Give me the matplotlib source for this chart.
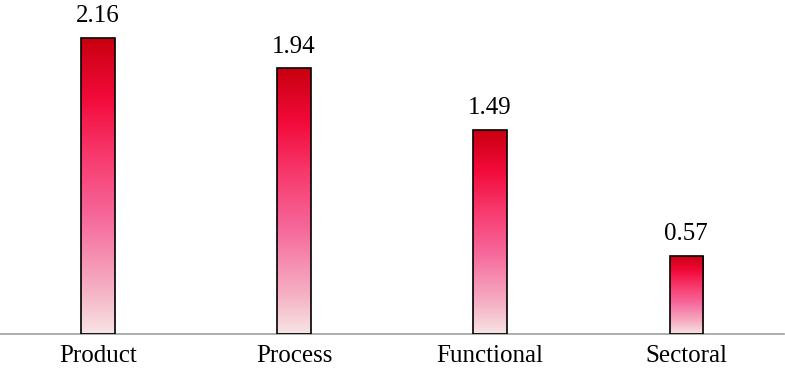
import numpy as np
import matplotlib
matplotlib.use("Agg")
import matplotlib.pyplot as plt
from matplotlib.colors import LinearSegmentedColormap

categories = ["Product", "Process", "Functional", "Sectoral"]
values = [2.16, 1.94, 1.49, 0.57]

plt.rcParams['font.family'] = ['Liberation Serif', 'DejaVu Serif']

fig = plt.figure(figsize=(7.85, 3.7), dpi=100)
ax = fig.add_axes([0.0, 0.097, 0.999, 0.903])

# gradient from light pink at the bottom to dark red at the top
cmap = LinearSegmentedColormap.from_list(
    "redpink",
    [(0.0, "#f8e4e4"), (0.15, "#f5b0c4"), (0.4, "#f6679a"),
     (0.6, "#f83a6e"), (0.8, "#f20a3a"), (1.0, "#c8000f")])
grad = np.linspace(0, 1, 256).reshape(-1, 1)

width = 0.17
x = np.arange(len(categories))
bars = ax.bar(x, values, width=width, color="none", edgecolor="black", linewidth=1.2, zorder=3)
for b, v in zip(bars, values):
    x0 = b.get_x()
    im = ax.imshow(grad, cmap=cmap, origin="lower", aspect="auto",
                   extent=[x0, x0 + width, 0, v], zorder=2)
    im.set_clip_path(b)
    ax.text(b.get_x() + width / 2, v + 0.08, "{:.2f}".format(v),
            ha="center", va="bottom", fontsize=18)

ax.set_xlim(-0.5, 3.5)
ax.set_ylim(0, 2.44)
ax.set_xticks(x)
ax.set_xticklabels(categories, fontsize=18)
ax.tick_params(axis="x", length=0, pad=8)
ax.set_yticks([])
for s in ["top", "right", "left"]:
    ax.spines[s].set_visible(False)
ax.spines["bottom"].set_color("#a0a0a0")
ax.spines["bottom"].set_linewidth(1.2)

fig.savefig("out.png", dpi=100)
